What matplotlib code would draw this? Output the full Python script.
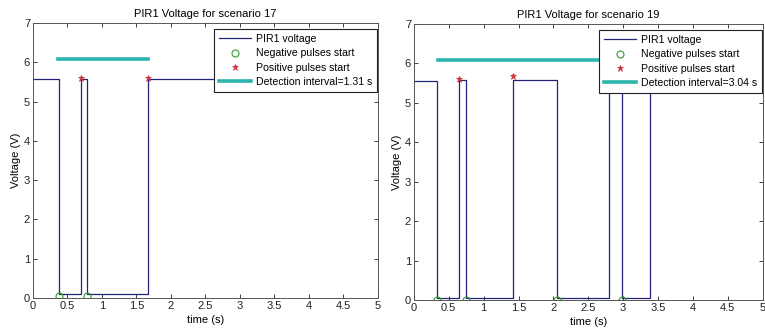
import numpy as np
import matplotlib
matplotlib.use('Agg')
import matplotlib.pyplot as plt

plt.rcParams['font.family'] = ['Liberation Sans', 'DejaVu Sans']

# scenario 17
edges17 = [0.0, 0.374, 0.70, 0.79, 1.67, 5.0]        # switching times (s)
levels17 = [5.58, 0.10, 5.58, 0.10, 5.58, 5.58]     # level held from each time
neg17_t = [0.374, 0.79]
neg17_v = [0.05, 0.05]
pos17_t = [0.70, 1.67]
pos17_v = [5.6, 5.6]
det17 = [0.36, 1.67]
det17_v = 6.08

# scenario 19
edges19 = [0.0, 0.334, 0.64, 0.745, 1.428, 2.058, 2.803, 2.985, 3.386, 5.0]
levels19 = [5.55, 0.05, 5.58, 0.05, 5.58, 0.05, 5.55, 0.05, 5.55, 5.55]
neg19_t = [0.334, 0.745, 2.058, 2.985]
neg19_v = [0.0, 0.0, 0.0, 0.0]
pos19_t = [0.64, 1.428, 2.803, 3.386]
pos19_v = [5.6, 5.67, 5.6, 5.6]
det19 = [0.34, 3.38]
det19_v = 6.08

fig = plt.figure(figsize=(7.65, 3.33), dpi=100, facecolor='white')
ax1 = fig.add_axes([0.043, 0.105, 0.451, 0.826])
ax2 = fig.add_axes([0.541, 0.099, 0.456, 0.829])


def panel(ax, edges, levels, nt, nv, pt, pv, det, dv, dlabel, title):
    ax.plot(edges, levels, drawstyle='steps-post', color='#23237a', lw=0.9,
            label='PIR1 voltage')
    ax.plot(nt, nv, 'o', mfc='none', mec='#2e9a2e', ms=5, mew=0.8,
            label='Negative pulses start')
    ax.plot(pt, pv, '*', color='#c8323c', ms=5, mew=0.5,
            label='Positive pulses start')
    ax.plot(det, [dv, dv], color='#2bb5ad', lw=2.6, label=dlabel)
    ax.set_xlim(0, 5)
    ax.set_ylim(0, 7)
    ax.set_xticks(np.arange(0, 5.01, 0.5))
    ax.set_xticklabels(['0', '0.5', '1', '1.5', '2', '2.5', '3', '3.5', '4', '4.5', '5'])
    ax.set_yticks(range(8))
    ax.tick_params(direction='in', top=True, right=True, length=3, width=0.6,
                   labelsize=8, pad=2, colors='#222222')
    for s in ax.spines.values():
        s.set_linewidth(0.7)
        s.set_color('#555555')
    ax.set_xlabel('time (s)', fontsize=8, labelpad=3)
    ax.set_ylabel('Voltage (V)', fontsize=8, labelpad=2)
    ax.set_title(title, fontsize=8, pad=4)
    leg = ax.legend(loc='upper right', bbox_to_anchor=(0.998, 0.978),
                    fontsize=7.6, frameon=True, fancybox=False, framealpha=1,
                    edgecolor='#222222', handlelength=3.1, borderpad=0.45,
                    labelspacing=0.42, handletextpad=0.45, borderaxespad=0)
    leg.get_frame().set_linewidth(0.8)


panel(ax1, edges17, levels17, neg17_t, neg17_v, pos17_t, pos17_v, det17, det17_v,
      'Detection interval=1.31 s', 'PIR1 Voltage for scenario 17')
panel(ax2, edges19, levels19, neg19_t, neg19_v, pos19_t, pos19_v, det19, det19_v,
      'Detection interval=3.04 s', 'PIR1 Voltage for scenario 19')

fig.savefig('out.png', dpi=100)
